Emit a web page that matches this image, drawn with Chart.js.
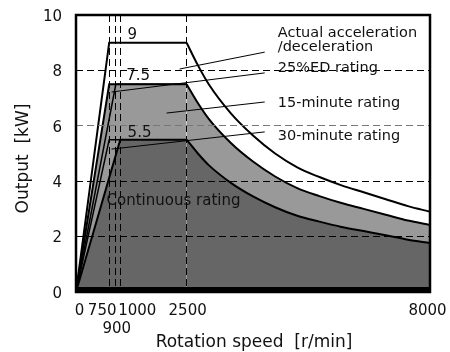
<!DOCTYPE html>
<html>
<head>
<meta charset="utf-8">
<script src="https://cdn.jsdelivr.net/npm/chart.js@4.4.0/dist/chart.umd.min.js"></script>
<style>
  html, body { margin: 0; padding: 0; background: #fff; }
</style>
</head>
<body>
<canvas id="powerChart" width="450" height="352"></canvas>
<script>
// axis ticks
const xTicks = [0, 750, 900, 1000, 2500, 8000];
const yTicks = [0, 2, 4, 6, 8, 10];

// ramp + flat part of every rating (speed r/min, output kW)
const accelRampSpeed = [0, 750, 2500];
const accelRampOutput = [0, 9, 9];
const ed25RampSpeed = [0, 750, 2500];
const ed25RampOutput = [0, 7.5, 7.5];
const min15RampSpeed = [0, 900, 2500];
const min15RampOutput = [0, 7.5, 7.5];
const min30RampSpeed = [0, 750, 2500];
const min30RampOutput = [0, 5.5, 5.5];
const contRampSpeed = [0, 1000, 2500];
const contRampOutput = [0, 5.5, 5.5];

// falling part above 2500 r/min
const curveSpeed = [2500, 2750, 3000, 3500, 4000, 4500, 5000, 5500, 6000, 6500, 7000, 7500, 8000];
const accelCurveOutput = [9, 8.2, 7.5, 6.45, 5.65, 5.0, 4.5, 4.15, 3.85, 3.6, 3.35, 3.1, 2.9];
const ed25CurveOutput = [7.5, 6.83, 6.25, 5.38, 4.71, 4.17, 3.75, 3.46, 3.21, 3.0, 2.79, 2.58, 2.42];
const contCurveOutput = [5.5, 5.01, 4.58, 3.94, 3.45, 3.06, 2.75, 2.54, 2.35, 2.2, 2.05, 1.89, 1.77];

// peak value labels [text, speed, output]
const peakLabels = [['9', 1166, 9.13], ['7.5', 1136, 7.65], ['5.5', 1166, 5.6]];

// rating names [text, speed, output]
const ratingLabels = [
  ['Actual acceleration', 4560, 9.21],
  ['/deceleration', 4560, 8.7],
  ['25%ED rating', 4560, 7.94],
  ['15-minute rating', 4560, 6.68],
  ['30-minute rating', 4560, 5.49]
];
// leader lines [from speed, from output, to speed, to output]
const leaderLines = [
  [2342, 8.05, 4265, 8.66],
  [803, 7.22, 4265, 7.91],
  [2048, 6.46, 4265, 6.86],
  [803, 5.16, 4265, 5.78]
];

const LIGHT = '#999999';
const DARK = '#666666';
const FONT = '"DejaVu Sans", Verdana, sans-serif';

function pts(xs, ys) {
  return xs.map((x, i) => ({ x: x, y: ys[i] }));
}

function line(xs, ys, fillColor, width, smooth) {
  return {
    data: pts(xs, ys),
    borderColor: '#000',
    borderWidth: width,
    backgroundColor: fillColor || 'transparent',
    fill: fillColor ? 'origin' : false,
    pointRadius: 0,
    tension: 0,
    cubicInterpolationMode: smooth ? 'monotone' : 'default'
  };
}

// index 0 is drawn last (on top)
const datasets = [
  line(curveSpeed, contCurveOutput, DARK, 2, true),
  line(contRampSpeed, contRampOutput, DARK, 2, false),
  line(min30RampSpeed, min30RampOutput, null, 1.5, false),
  line(min15RampSpeed, min15RampOutput, null, 1.5, false),
  line(curveSpeed, ed25CurveOutput, LIGHT, 2, true),
  line(ed25RampSpeed, ed25RampOutput, LIGHT, 2, false),
  line(curveSpeed, accelCurveOutput, '#ffffff', 2, true),
  line(accelRampSpeed, accelRampOutput, '#ffffff', 2, false)
];

const textPlugin = {
  id: 'textPlugin',
  afterDraw(chart) {
    const ctx = chart.ctx;
    const xs = chart.scales.x;
    const ys = chart.scales.y;
    const a = chart.chartArea;
    ctx.save();

    // leader lines
    ctx.strokeStyle = '#000';
    ctx.lineWidth = 1;
    leaderLines.forEach(l => {
      ctx.beginPath();
      ctx.moveTo(xs.getPixelForValue(l[0]), ys.getPixelForValue(l[1]));
      ctx.lineTo(xs.getPixelForValue(l[2]), ys.getPixelForValue(l[3]));
      ctx.stroke();
    });

    // frame
    ctx.lineWidth = 2.5;
    ctx.strokeRect(a.left, a.top, a.right - a.left, a.bottom - a.top);
    ctx.lineWidth = 6;
    ctx.beginPath();
    ctx.moveTo(a.left - 1, a.bottom - 2);
    ctx.lineTo(a.right + 1, a.bottom - 2);
    ctx.stroke();

    ctx.fillStyle = '#111';
    ctx.textBaseline = 'alphabetic';
    ctx.textAlign = 'left';

    ctx.font = '15px ' + FONT;
    peakLabels.forEach(p => {
      ctx.fillText(p[0], xs.getPixelForValue(p[1]), ys.getPixelForValue(p[2]));
    });

    ctx.font = '14.5px ' + FONT;
    ratingLabels.forEach(r => {
      ctx.fillText(r[0], xs.getPixelForValue(r[1]), ys.getPixelForValue(r[2]));
    });

    ctx.font = '15px ' + FONT;
    ctx.fillText('Continuous rating', xs.getPixelForValue(690), ys.getPixelForValue(3.14));

    // y tick labels
    ctx.textAlign = 'right';
    ctx.textBaseline = 'middle';
    yTicks.forEach(v => {
      ctx.fillText(String(v), a.left - 14, ys.getPixelForValue(v) + 2);
    });

    // x tick labels, shifted apart like the original
    const xShift = { 0: 3.5, 750: -7, 900: 1, 1000: 17, 2500: 1, 8000: -2.5 };
    ctx.textAlign = 'center';
    ctx.textBaseline = 'alphabetic';
    xTicks.forEach(v => {
      const row = v === 900 ? 1 : 0;
      ctx.fillText(String(v), xs.getPixelForValue(v) + xShift[v], a.bottom + 23 + row * 18);
    });

    // axis titles
    ctx.font = '17px ' + FONT;
    ctx.fillText('Rotation speed  [r/min]', 254, a.bottom + 55);
    ctx.translate(22, (a.top + a.bottom) / 2 + 5);
    ctx.rotate(-Math.PI / 2);
    ctx.fillText('Output  [kW]', 0, 6);

    ctx.restore();
  }
};

new Chart(document.getElementById('powerChart'), {
  type: 'line',
  data: { datasets: datasets },
  options: {
    responsive: false,
    animation: false,
    layout: { padding: { left: 76, right: 20, top: 15, bottom: 60 } },
    plugins: { legend: { display: false }, tooltip: { enabled: false } },
    scales: {
      x: {
        type: 'linear',
        min: 0,
        max: 8000,
        afterBuildTicks: s => { s.ticks = xTicks.map(v => ({ value: v })); },
        ticks: { display: false },
        grid: { color: '#000', lineWidth: 1, drawTicks: false, z: 1 },
        border: { display: false, dash: [7, 4] }
      },
      y: {
        min: 0,
        max: 10,
        afterBuildTicks: s => { s.ticks = yTicks.map(v => ({ value: v })); },
        ticks: { display: false },
        grid: {
          color: c => (c.tick && c.tick.value === 6 ? '#777' : '#000'),
          lineWidth: 1,
          drawTicks: false,
          z: 1
        },
        border: { display: false, dash: [7, 4] }
      }
    }
  },
  plugins: [textPlugin]
});
</script>
</body>
</html>
